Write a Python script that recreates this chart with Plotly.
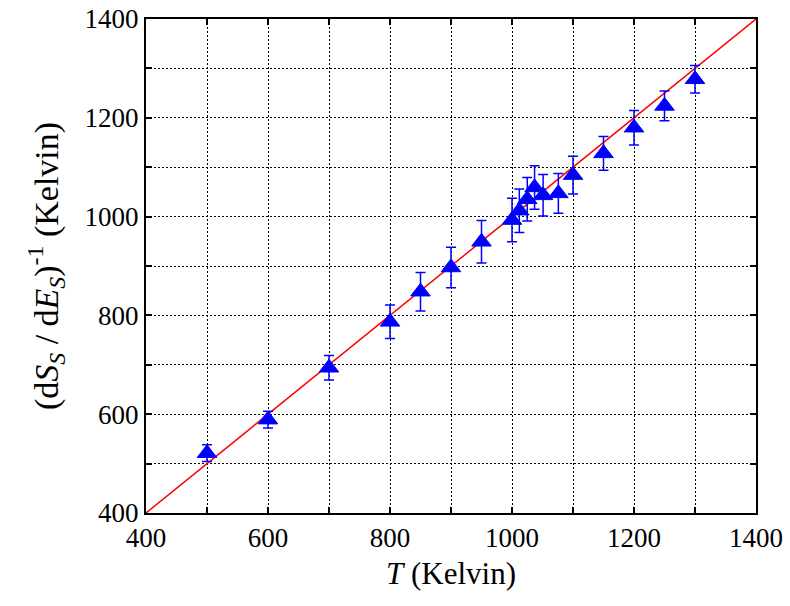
import plotly.graph_objects as go

# Measured inverse entropy slope versus temperature
temperature = [500, 600, 700, 800, 850, 900, 950, 1000, 1012, 1025, 1037, 1051, 1076,
               1100, 1150, 1200, 1250, 1300]
inv_slope = [521, 589, 694, 787, 848, 897, 949, 993, 1012, 1035, 1059, 1043, 1047,
             1084, 1128, 1180, 1224, 1278]
inv_slope_err = [17, 17, 25, 34, 39, 41, 43, 44, 44, 44, 44, 42, 40,
                 38, 34, 35, 30, 28]

# Reference line (dS/dE)^-1 = T
ref_x = [400, 1400]
ref_y = [400, 1400]

FONT = "Liberation Serif, Times New Roman, DejaVu Serif, serif"

fig = go.Figure()

fig.add_trace(go.Scatter(
    x=ref_x, y=ref_y, mode="lines",
    line=dict(color="#ff0000", width=1.5),
    showlegend=False, hoverinfo="skip",
))

fig.add_trace(go.Scatter(
    x=temperature, y=inv_slope, mode="markers",
    marker=dict(symbol="triangle-up", size=17, color="#0000ff",
                line=dict(color="#0000ff", width=1)),
    error_y=dict(type="data", array=inv_slope_err, visible=True,
                 color="#0000ff", thickness=1.5, width=5),
    showlegend=False,
))

axis_common = dict(
    showline=True, linecolor="black", linewidth=2, mirror="allticks",
    ticks="inside", ticklen=6, tickwidth=1.5, tickcolor="black",
    showgrid=True, gridcolor="black", gridwidth=1, griddash="2px,2px",
    zeroline=False, automargin=False,
    tickfont=dict(family=FONT, size=27, color="black"),
    minor=dict(dtick=100, ticks="inside", ticklen=6, tickwidth=1.5,
               tickcolor="black", showgrid=True, gridcolor="black",
               gridwidth=1, griddash="2px,2px"),
)

fig.update_xaxes(
    range=[400, 1400], dtick=200, tick0=400,
    title=dict(text="<i>T</i> (Kelvin)", font=dict(family=FONT, size=31, color="black"),
               standoff=10),
    **axis_common,
)
fig.update_yaxes(
    range=[400, 1400], dtick=200, tick0=400,
    title=dict(text="(d<i>S</i><sub><i>S</i></sub> / d<i>E</i><sub><i>S</i></sub>)<sup>-1</sup> (Kelvin)",
               font=dict(family=FONT, size=34, color="black"), standoff=16),
    **axis_common,
)

fig.update_layout(
    width=790, height=606,
    margin=dict(l=146, r=34, t=19, b=93, autoexpand=False),
    paper_bgcolor="white", plot_bgcolor="white",
    font=dict(family=FONT, size=27, color="black"),
)

fig.write_html("out.html")
